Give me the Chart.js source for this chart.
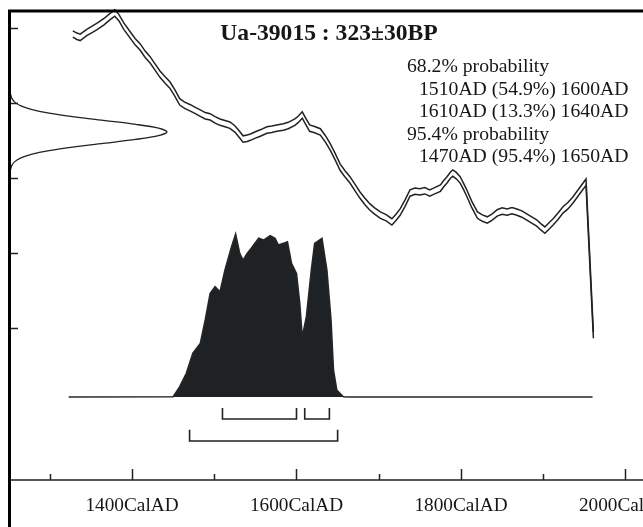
<!DOCTYPE html>
<html>
<head>
<meta charset="utf-8">
<script src="https://cdn.jsdelivr.net/npm/chart.js@4"></script>
<style>
  body { margin: 0; background: #fff; }
  #chart_container { width: 643px; height: 527px; }
</style>
</head>
<body>
<div id="chart_container"><canvas id="chart" width="643" height="527"></canvas></div>
<script>
// calibration curve (cal AD vs radiocarbon BP)
const curveYears = [1328, 1333, 1337, 1345, 1352, 1358, 1366, 1373, 1379, 1384, 1390, 1398, 1404, 1410, 1416, 1422,
  1428, 1434, 1440, 1446, 1452, 1458, 1464, 1471, 1477, 1483, 1489, 1495, 1501, 1507, 1513, 1519, 1525, 1530, 1535,
  1540, 1544, 1550, 1556, 1564, 1570, 1576, 1584, 1590, 1598, 1602, 1607, 1611, 1616, 1622, 1629, 1635, 1641, 1647,
  1653, 1659, 1665, 1671, 1677, 1683, 1689, 1695, 1702, 1709, 1716, 1721, 1726, 1732, 1738, 1744, 1750, 1756, 1762,
  1768, 1775, 1779, 1783, 1787, 1790, 1794, 1799, 1803, 1807, 1813, 1820, 1826, 1832, 1838, 1844, 1850, 1856, 1862,
  1868, 1874, 1880, 1886, 1892, 1897, 1902, 1907, 1912, 1918, 1924, 1930, 1936, 1944, 1952, 1961];
const curveBP = [584, 578, 575, 588, 597, 605, 617, 630, 640, 628, 605, 581, 563, 549, 530, 515,
  496, 477, 462, 448, 427, 403, 394, 387, 380, 373, 366, 363, 355, 349, 345, 341, 331, 318, 304,
  306, 309, 315, 320, 328, 330, 333, 336, 340, 349, 356, 368, 352, 333, 329, 323, 305, 283, 257,
  229, 211, 195, 175, 155, 138, 123, 112, 101, 94, 83, 95, 109, 133, 160, 165, 163, 166, 160,
  166, 173, 185, 195, 207, 213, 207, 195, 178, 160, 130, 101, 93, 88, 96, 107, 112, 109, 113,
  109, 104, 96, 88, 80, 70, 61, 72, 83, 98, 115, 126, 141, 165, 189, -219];
const curveErr = 8.5;

// measured date 323±30BP, drawn along the BP axis
const gaussBP = [223, 233, 243, 253, 263, 273, 283, 293, 303, 313, 323, 333, 343, 353, 363, 373, 383, 393, 403, 413, 423];
const gaussDensity = [0.004, 0.011, 0.029, 0.066, 0.135, 0.249, 0.411, 0.607, 0.801, 0.946, 1, 0.946, 0.801, 0.607,
  0.411, 0.249, 0.135, 0.066, 0.029, 0.011, 0.004];

// calibrated probability distribution
const probYears = [1323, 1450, 1458, 1466, 1474, 1483, 1489, 1495, 1501, 1507, 1513, 1521, 1526, 1531, 1535, 1540,
  1545, 1554, 1560, 1568, 1574, 1578, 1584, 1589, 1594, 1600, 1604, 1607, 1612, 1618, 1622, 1631, 1637, 1642, 1645,
  1649, 1657, 1665, 1960];
const probValues = [0, 0.002, 0.063, 0.145, 0.267, 0.327, 0.47, 0.632, 0.673, 0.642, 0.774, 0.916, 0.994, 0.876, 0.835,
  0.876, 0.907, 0.968, 0.957, 0.984, 0.968, 0.927, 0.937, 0.947, 0.815, 0.754, 0.571, 0.368, 0.49, 0.774, 0.937,
  0.968, 0.774, 0.47, 0.165, 0.043, 0.002, 0, 0];

const range68 = [[1510, 1600], [1610, 1640]];
const range95 = [[1470, 1650]];

const majorTicks = [1400, 1600, 1800, 2000];
const minorTicks = [1300, 1500, 1700, 1900];
const tickLabels = ["1400CalAD", "1600CalAD", "1800CalAD", "2000CalAD"];
const bpTicks = [600, 400, 200, 0, -200];

const titleText = "Ua-39015 : 323±30BP";
const notes = [
  ["68.2% probability", 0],
  ["1510AD (54.9%) 1600AD", 1],
  ["1610AD (13.3%) 1640AD", 1],
  ["95.4% probability", 0],
  ["1470AD (95.4%) 1650AD", 1],
];

const INK = "#222";

function bracket(range, level, top) {
  const [a, b] = range;
  return {
    data: [{ x: a, y: top }, { x: a, y: level }, { x: b, y: level }, { x: b, y: top }],
    xAxisID: "x", yAxisID: "yp", showLine: true, borderColor: INK, borderWidth: 1.6,
    pointRadius: 0, fill: false,
  };
}

const bracketSets = [
  ...range68.map((r) => bracket(r, -0.134, -0.067)),
  ...range95.map((r) => bracket(r, -0.268, -0.2)),
];

const decor = {
  id: "decor",
  afterDraw(chart) {
    const { ctx } = chart;
    const x = chart.scales.x;
    const y = chart.scales.y;
    ctx.save();
    ctx.strokeStyle = INK;
    ctx.lineWidth = 1.5;
    ctx.beginPath();
    ctx.moveTo(10, 480);
    ctx.lineTo(643, 480);
    majorTicks.forEach((v) => {
      const px = Math.round(x.getPixelForValue(v)) + 0.5;
      ctx.moveTo(px, 480);
      ctx.lineTo(px, 469);
    });
    minorTicks.forEach((v) => {
      const px = Math.round(x.getPixelForValue(v)) + 0.5;
      ctx.moveTo(px, 480);
      ctx.lineTo(px, 474);
    });
    bpTicks.forEach((v) => {
      const py = Math.round(y.getPixelForValue(v)) + 0.5;
      ctx.moveTo(10, py);
      ctx.lineTo(18, py);
    });
    ctx.stroke();

    // frame
    ctx.strokeStyle = "#000";
    ctx.lineWidth = 3;
    ctx.beginPath();
    ctx.moveTo(643, 11);
    ctx.lineTo(9.5, 11);
    ctx.lineTo(9.5, 527);
    ctx.stroke();

    ctx.fillStyle = "#161616";
    ctx.textBaseline = "alphabetic";
    ctx.textAlign = "center";
    ctx.font = "19.3px 'Liberation Serif'";
    majorTicks.forEach((v, i) => {
      ctx.fillText(tickLabels[i], x.getPixelForValue(v), 511);
    });

    ctx.font = "bold 23.6px 'Liberation Serif'";
    ctx.fillText(titleText, 329, 40);

    ctx.textAlign = "left";
    ctx.font = "19.7px 'Liberation Serif'";
    notes.forEach(([t, indent], i) => {
      ctx.fillText(t, indent ? 419 : 407, 72 + i * 22.5);
    });
    ctx.restore();
  },
};

new Chart(document.getElementById("chart"), {
  type: "scatter",
  data: {
    datasets: [
      {
        data: probYears.map((yr, i) => ({ x: yr, y: probValues[i] })),
        xAxisID: "x", yAxisID: "yp", showLine: true, fill: "origin",
        backgroundColor: "#1e2225", borderColor: "#262626", borderWidth: 1.5, pointRadius: 0,
      },
      ...bracketSets,
      {
        data: curveYears.map((yr, i) => ({ x: yr, y: curveBP[i] + curveErr })),
        xAxisID: "x", yAxisID: "y", showLine: true, borderColor: INK, borderWidth: 1.5, pointRadius: 0,
      },
      {
        data: curveYears.map((yr, i) => ({ x: yr, y: curveBP[i] - curveErr })),
        xAxisID: "x", yAxisID: "y", showLine: true, borderColor: INK, borderWidth: 1.5, pointRadius: 0,
      },
      {
        data: gaussBP.map((bp, i) => ({ x: gaussDensity[i], y: bp })),
        xAxisID: "xg", yAxisID: "y", showLine: true, borderColor: INK, borderWidth: 1.3, pointRadius: 0,
        tension: 0.3,
      },
    ],
  },
  options: {
    responsive: false,
    animation: false,
    layout: { padding: 0 },
    plugins: { legend: { display: false }, tooltip: { enabled: false } },
    scales: {
      x: { type: "linear", display: false, min: 1239.5, max: 2021.3 },
      xg: { type: "linear", display: false, min: -0.0637, max: 4.032 },
      y: { type: "linear", display: false, min: -730.7, max: 674.7 },
      yp: { type: "linear", display: false, min: -0.7927, max: 2.4207 },
    },
  },
  plugins: [decor],
});
</script>
</body>
</html>
